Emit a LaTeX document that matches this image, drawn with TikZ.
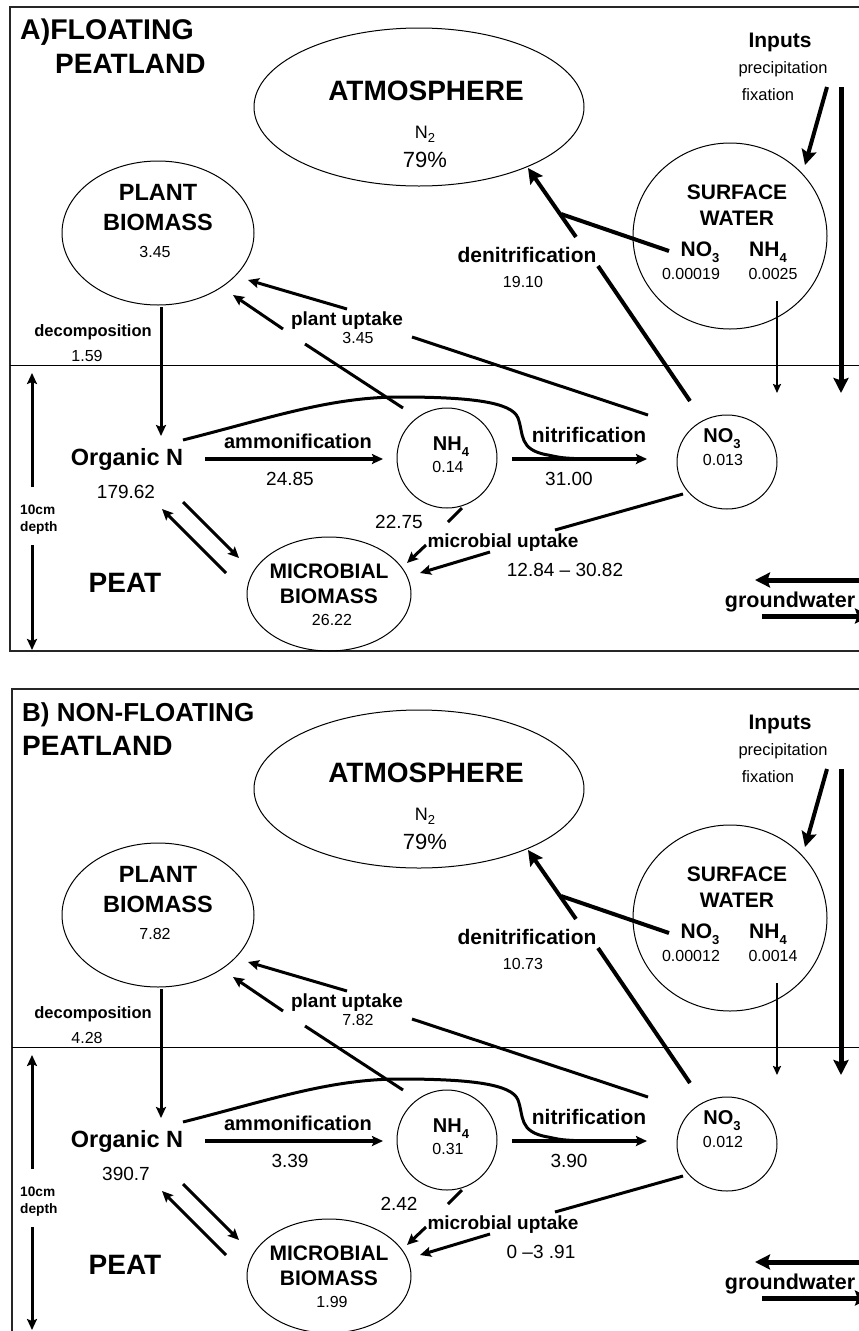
\documentclass[tikz,border=0pt]{standalone}
\usepackage{fontspec}
\setmainfont{Liberation Sans}
\usetikzlibrary{arrows.meta,shapes.geometric}
\newcommand\fs[1]{\fontsize{#1}{#1}\selectfont}
\newcommand\lsub[2]{\raisebox{-#1pt}{\fs{13}#2}}
\tikzset{
 bt/.style={inner sep=0pt, anchor=base, font=\bfseries\fs{#1}},
 rt/.style={inner sep=0pt, anchor=base, font=\fs{#1}},
 pool/.style={draw, ellipse, line width=1pt, inner sep=0pt},
 tipM/.style={-{Stealth[length=11pt,width=10pt,inset=2pt]}},
 tipL/.style={-{Stealth[length=15pt,width=15pt,inset=2.5pt]}},
 tipS/.style={-{Stealth[length=9pt,width=8pt,inset=1.5pt]}},
 flow/.style={line width=3pt},
 bigflow/.style={line width=4pt},
 hugeflow/.style={line width=5pt},
}
\newcommand\drawpanel{%
 % frame and surface line
 \draw[line width=2pt, draw=black!85] (875,7) -- (\frameX,7) -- (\frameX,651) -- (875,651);
 \draw[line width=0.8pt] (\frameX,365) -- (875,365);
 % titles
 \node[bt=\tAsize, anchor=base west] (t1) at (\tAX,39) {\titleA};
 \node[bt=28, anchor=base west] (t2) at (\tBX,73) {PEATLAND};
 % pools
 \node[pool, minimum width=330pt, minimum height=158pt] (atm) at (419,107) {};
 \node[pool, minimum width=192pt, minimum height=144pt] (plant) at (158,233) {};
 \node[pool, minimum width=194pt, minimum height=186pt] (sw) at (730,236) {};
 \node[pool, minimum width=100pt, minimum height=100pt] (nh4) at (447,458) {};
 \node[pool, minimum width=100pt, minimum height=94pt] (no3) at (727,462) {};
 \node[pool, minimum width=164pt, minimum height=114pt] (mic) at (329,594) {};
 % atmosphere texts
 \node[bt=28] (atmT) at (426,100) {ATMOSPHERE};
 \node[rt=18] (atmN) at (425,138) {N\lsub{4}{2}};
 \node[rt=22] (atmP) at (425,167) {79\%};
 % plant biomass texts
 \node[bt=23.5] (plT1) at (158,200) {PLANT};
 \node[bt=23.5] (plT2) at (158,230) {BIOMASS};
 \node[rt=16] (plV) at (155,257) {\vPlant};
 % surface water texts
 \node[bt=21] (swT1) at (737,199) {SURFACE};
 \node[bt=21] (swT2) at (737,225) {WATER};
 \node[bt=21] (swN) at (700,256) {NO\lsub{6}{3}};
 \node[bt=21] (swH) at (768,256) {NH\lsub{6}{4}};
 \node[rt=16] (swNv) at (691,279) {\vSwN};
 \node[rt=16] (swHv) at (773,279) {\vSwH};
 % inputs
 \node[bt=21] (inp) at (780,47) {Inputs};
 \node[rt=16.5] (prec) at (783,73) {precipitation};
 \node[rt=16.5] (fix) at (768,100) {fixation};
 \coordinate (inS) at (827,87); \coordinate (inE) at (805,165);
 \draw[bigflow, tipL] (inS) -- (inE);
 \coordinate (rvS) at (841,87); \coordinate (rvE) at (841,393);
 \draw[hugeflow, tipL] (rvS) -- (rvE);
 \coordinate (svS) at (777,301); \coordinate (svE) at (777,393);
 \draw[line width=2.5pt, tipS] (svS) -- (svE);
 % denitrification
 \node[bt=21] (dnT) at (527,262) {denitrification};
 \node[rt=16] (dnV) at (523,287) {\vDen};
 \coordinate (dnA) at (690,401); \coordinate (dnB) at (598,266);
 \coordinate (dnC) at (576,237); \coordinate (dnD) at (528,168);
 \coordinate (dnE) at (669,251); \coordinate (dnF) at (561,214);
 \draw[bigflow] (dnA) -- (dnB);
 \draw[bigflow, tipL] (dnC) -- (dnD);
 \draw[bigflow] (dnE) -- (dnF);
 % plant uptake
 \node[bt=19] (puT) at (347,325) {plant uptake};
 \node[rt=16] (puV) at (358,343) {\vPu};
 \coordinate (pu1a) at (648,415); \coordinate (pu1b) at (412,337);
 \coordinate (pu1c) at (347,309); \coordinate (pu1d) at (248,280);
 \draw[flow] (pu1a) -- (pu1b);
 \draw[flow, tipM] (pu1c) -- (pu1d);
 \coordinate (pu2a) at (403,408); \coordinate (pu2b) at (305,344);
 \coordinate (pu2c) at (283,329); \coordinate (pu2d) at (233,295);
 \draw[flow] (pu2a) -- (pu2b);
 \draw[flow, tipM] (pu2c) -- (pu2d);
 % decomposition
 \node[bt=16.5] (dcT) at (93,336) {decomposition};
 \node[rt=16] (dcV) at (87,361) {\vDec};
 \coordinate (dcS) at (161,307); \coordinate (dcE) at (161,436);
 \draw[flow, tipM] (dcS) -- (dcE);
 % organic N
 \node[bt=23.5] (orgT) at (127,465) {Organic N};
 \node[rt=19] (orgV) at (126,498) {\vOrg};
 % ammonification
 \node[bt=20] (amT) at (298,448) {ammonification};
 \node[rt=19] (amV) at (290,485) {\vAm};
 \coordinate (amS) at (205,459); \coordinate (amE) at (383,459);
 \draw[bigflow, tipM] (amS) -- (amE);
 % NH4
 \node[bt=20] (nhT) at (451,450) {NH\lsub{6}{4}};
 \node[rt=16] (nhV) at (448,472) {\vNh};
 % nitrification
 \node[bt=21] (niT) at (589,442) {nitrification};
 \node[rt=19] (niV) at (569,485) {\vNi};
 \coordinate (niS) at (512,459); \coordinate (niE) at (647,459);
 \draw[bigflow, tipM] (niS) -- (niE);
 % curve from organic N
 \coordinate (cvS) at (183,440); \coordinate (cvE) at (585,459);
 \draw[flow] (cvS) .. controls (270,418) and (330,397) .. (400,397)
   .. controls (470,397) and (512,402) .. (518,418)
   .. controls (524,434) and (518,450) .. (548,455)
   .. controls (562,458) .. (cvE);
 % NO3
 \node[bt=20] (noT) at (722,442) {NO\lsub{6}{3}};
 \node[rt=16] (noV) at (723,465) {\vNo};
 % microbial uptake
 \node[bt=19] (muT) at (503,547) {microbial uptake};
 \node[rt=19] (muV) at (\rangeX,576) {\vRange};
 \node[rt=19] (nmV) at (399,528) {\vNm};
 \coordinate (mu1a) at (462,508); \coordinate (mu1b) at (448,522);
 \coordinate (mu1c) at (426,545); \coordinate (mu1d) at (407,563);
 \draw[flow] (mu1a) -- (mu1b);
 \draw[flow, tipM] (mu1c) -- (mu1d);
 \coordinate (mu2a) at (683,494); \coordinate (mu2b) at (555,530);
 \coordinate (mu2c) at (490,552); \coordinate (mu2d) at (420,573);
 \draw[flow] (mu2a) -- (mu2b);
 \draw[flow, tipM] (mu2c) -- (mu2d);
 % organic N <-> microbial
 \coordinate (om1a) at (183,502); \coordinate (om1b) at (239,558);
 \coordinate (om2a) at (226,573); \coordinate (om2b) at (162,509);
 \draw[flow, tipM] (om1a) -- (om1b);
 \draw[flow, tipM] (om2a) -- (om2b);
 % microbial biomass texts
 \node[bt=21] (miT1) at (329,578) {MICROBIAL};
 \node[bt=21] (miT2) at (329,603) {BIOMASS};
 \node[rt=16] (miV) at (332,625) {\vMic};
 % peat
 \node[bt=28] (peat) at (125,592) {PEAT};
 % depth
 \node[bt=13.7, anchor=base west] (d1) at (20,514) {10cm};
 \node[bt=13.7, anchor=base west] (d2) at (20,531) {depth};
 \coordinate (dpA) at (32,487); \coordinate (dpB) at (32,373);
 \coordinate (dpC) at (32,545); \coordinate (dpD) at (32,\depthEnd);
 \draw[flow, tipM] (dpA) -- (dpB);
 \draw[flow, tipM] (dpC) -- (dpD);
 % groundwater
 \node[bt=21.5] (gw) at (790,607) {groundwater};
 \coordinate (gw1a) at (880,580); \coordinate (gw1b) at (755,580);
 \coordinate (gw2a) at (762,616); \coordinate (gw2b) at (870,616);
 \draw[hugeflow, tipL] (gw1a) -- (gw1b);
 \draw[hugeflow, tipL] (gw2a) -- (gw2b);
}
\begin{document}
\begin{tikzpicture}[x=1pt,y=-1pt]
\useasboundingbox (0,0) rectangle (859,1331);
\fill[white] (0,0) rectangle (859,1331);
\begin{scope}[name prefix=A-]
 \def\frameX{10}\def\tAsize{28.5}\def\tAX{20}\def\tBX{55}\def\titleA{A)FLOATING}
 \def\vPlant{3.45}\def\vSwN{0.00019}\def\vSwH{0.0025}\def\vDen{19.10}
 \def\vPu{3.45}\def\vDec{1.59}\def\vOrg{179.62}\def\vAm{24.85}\def\vNh{0.14}
 \def\vNi{31.00}\def\vNo{0.013}\def\vRange{12.84 -- 30.82}\def\rangeX{565}
 \def\vNm{22.75}\def\vMic{26.22}\def\depthEnd{650}
 \drawpanel
\end{scope}
\begin{scope}[shift={(0,682)}, name prefix=B-]
 \def\frameX{12}\def\tAsize{26}\def\tAX{22}\def\tBX{22}\def\titleA{B) NON-FLOATING}
 \def\vPlant{7.82}\def\vSwN{0.00012}\def\vSwH{0.0014}\def\vDen{10.73}
 \def\vPu{7.82}\def\vDec{4.28}\def\vOrg{390.7}\def\vAm{3.39}\def\vNh{0.31}
 \def\vNi{3.90}\def\vNo{0.012}\def\vRange{0 --3 .91}\def\rangeX{541}
 \def\vNm{2.42}\def\vMic{1.99}\def\depthEnd{648}
 \drawpanel
\end{scope}
\end{tikzpicture}
\end{document}
